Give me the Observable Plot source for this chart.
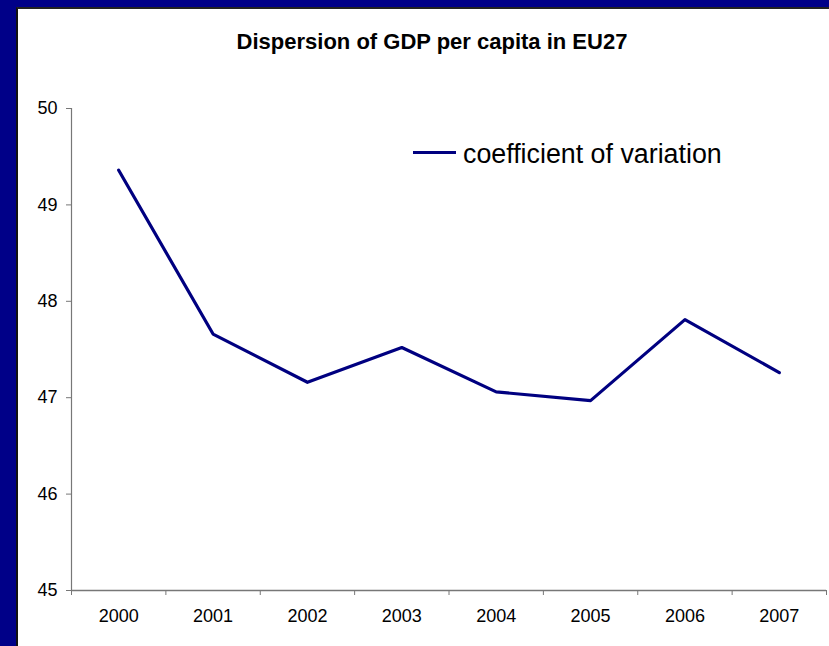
<!DOCTYPE html>
<html>
<head>
<meta charset="utf-8">
<script src="https://cdn.jsdelivr.net/npm/d3@7"></script>
<script src="https://cdn.jsdelivr.net/npm/@observablehq/plot@0.6"></script>
<style>
  html, body { margin: 0; padding: 0; }
  body { width: 829px; height: 646px; background: #000088; position: relative; overflow: hidden;
         font-family: "Liberation Sans", Arial, sans-serif; }
  #panel { position: absolute; left: 16px; top: 7px; width: 813px; height: 639px; background: #fff;
           border-top: 2px solid #222; border-left: 2px solid #111; box-sizing: border-box; }
  #title { position: absolute; left: 414px; top: 21px; transform: translateX(-50%); white-space: nowrap;
           font-weight: bold; font-size: 22px; line-height: 24px; color: #000; }
  #chart { position: absolute; left: 0; top: 0; }
  #legend-line { position: absolute; left: 395px; top: 142px; width: 43px; height: 3px; background: #000080; }
  #legend-text { position: absolute; left: 445px; top: 130px; font-size: 26.8px; line-height: 30px; color: #000; white-space: nowrap; }
</style>
</head>
<body>
<div id="panel">
  <div id="chart"></div>
  <div id="title">Dispersion of GDP per capita in EU27</div>
  <div id="legend-line"></div>
  <div id="legend-text">coefficient of variation</div>
</div>
<script>
const years = [2000, 2001, 2002, 2003, 2004, 2005, 2006, 2007];
const coefficientOfVariation = [49.36, 47.66, 47.16, 47.52, 47.06, 46.97, 47.81, 47.26];
const yTicks = [45, 46, 47, 48, 49, 50];

const data = years.map((year, i) => ({year, value: coefficientOfVariation[i]}));
const boundaries = years.map(y => y - 0.5).concat([years[years.length - 1] + 0.5]);

const chart = Plot.plot({
  width: 811,
  height: 637,
  marginLeft: 53,
  marginRight: 3,
  marginTop: 99,
  marginBottom: 56,
  x: {domain: [boundaries[0], boundaries[boundaries.length - 1]]},
  y: {domain: [45, 50]},
  style: {fontFamily: '"Liberation Sans", Arial, sans-serif', fontSize: "18px", color: "#000", background: "transparent"},
  marks: [
    Plot.axisY({ticks: yTicks, tickSize: 5, tickPadding: 9, stroke: "#777", fontSize: 18, tickFormat: d => String(d), label: null}),
    Plot.axisX({ticks: boundaries, tickSize: 5, tickFormat: () => "", stroke: "#777", label: null}),
    Plot.axisX({ticks: years, tickSize: 0, tickPadding: 19, fontSize: 18, tickFormat: d => String(d), label: null}),
    Plot.ruleX([boundaries[0]], {stroke: "#777", strokeWidth: 1.2}),
    Plot.ruleY([45], {stroke: "#777", strokeWidth: 1.6}),
    Plot.line(data, {x: "year", y: "value", stroke: "#000080", strokeWidth: 3.2})
  ]
});
document.getElementById("chart").appendChild(chart);
</script>
</body>
</html>
